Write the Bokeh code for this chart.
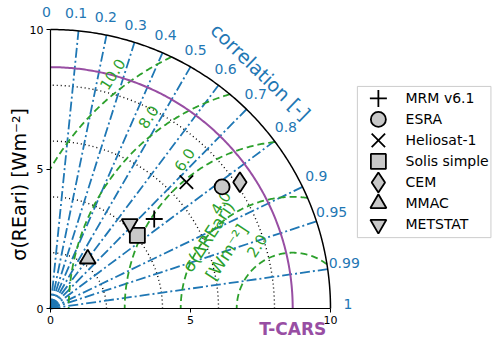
import numpy as np
from bokeh.plotting import figure
from bokeh.models import LinearAxis, FixedTicker
from bokeh.embed import file_html
from bokeh.resources import INLINE
from bokeh.core.properties import value

# ---------------- data ----------------
models = ["MRM v6.1", "ESRA", "Heliosat-1", "Solis simple", "CEM", "MMAC", "METSTAT"]
std_dev = [4.90, 7.52, 6.64, 4.06, 8.14, 2.22, 4.15]
correlation = [0.756, 0.815, 0.731, 0.764, 0.831, 0.599, 0.682]
ref_name = "T-CARS"
ref_std = 8.65
std_max = 10.0
std_axis_ticks = [0, 5, 10]
std_grid = [2, 4, 6, 8]
corr_tick_values = [0.0, 0.1, 0.2, 0.3, 0.4, 0.5, 0.6, 0.7, 0.8, 0.9, 0.95, 0.99, 1.0]
corr_tick_labels = ["0", "0.1", "0.2", "0.3", "0.4", "0.5", "0.6", "0.7", "0.8", "0.9", "0.95", "0.99", "1"]
corr_line_values = [0.1, 0.2, 0.3, 0.4, 0.5, 0.6, 0.7, 0.8, 0.9, 0.95, 0.99]
rmsd_levels = [2, 4, 6, 8, 10]
rmsd_labels = ["2.0", "4.0", "6.0", "8.0", "10.0"]

# ---------------- styles ----------------
marker_types = ["cross", "circle", "x", "square", "diamond", "triangle", "inverted_triangle"]
marker_sizes = [17, 15, 19, 15, 20, 16, 16]
BLUE = "#1f77b4"
GREEN = "#2ca02c"
PURPLE = "#984ea3"
GREY = "#c8c8c8"
FONT = value("DejaVu Sans")

W, H = 492, 338
PX, PY = 28.0, 27.9          # pixels per data unit
OX, OY = 50, 308             # origin position in figure pixels
x_range = (-OX / PX, (W - OX) / PX)
y_range = (-(H - OY) / PY, OY / PY)

p = figure(width=W, height=H, x_range=x_range, y_range=y_range,
           x_axis_type=None, y_axis_type=None, title=None,
           min_border=0, toolbar_location=None, output_backend="svg")
p.outline_line_color = None
p.background_fill_color = "white"
p.border_fill_color = "white"

th = np.linspace(0, np.pi / 2, 200)

# std dotted grid arcs
p.multi_line([list(r * np.cos(th)) for r in std_grid], [list(r * np.sin(th)) for r in std_grid],
             line_color="black", line_dash="1 3", line_width=1.4)

# correlation rays
angs = np.arccos(corr_line_values)
p.multi_line([[0, std_max * np.cos(a)] for a in angs], [[0, std_max * np.sin(a)] for a in angs],
             line_color=BLUE, line_dash="10 3 2 3", line_width=1.8)

# RMSD arcs around the reference point
c = ref_std
rx, ry = [], []
for r in rmsd_levels:
    xi = (std_max ** 2 - r ** 2 + c ** 2) / (2 * c)
    yi = np.sqrt(max(std_max ** 2 - xi ** 2, 0))
    t0 = np.arctan2(yi, xi - c)
    t1 = np.pi if r <= c else np.arccos(-c / r)
    tt = np.linspace(t0, t1, 200)
    rx.append(list(c + r * np.cos(tt)))
    ry.append(list(r * np.sin(tt)))
p.multi_line(rx, ry, line_color=GREEN, line_dash="7 4", line_width=1.8)

# reference arc and outer circle
p.line(ref_std * np.cos(th), ref_std * np.sin(th), line_color=PURPLE, line_width=2)
p.line(std_max * np.cos(th), std_max * np.sin(th), line_color="black", line_width=1.5)

# axes
xa = LinearAxis(fixed_location=0, ticker=FixedTicker(ticks=std_axis_ticks), bounds=(0, std_max))
ya = LinearAxis(fixed_location=0, ticker=FixedTicker(ticks=std_axis_ticks), bounds=(0, std_max))
for ax in (xa, ya):
    ax.major_label_text_font = "DejaVu Sans"
    ax.major_label_text_font_size = "11px"
    ax.major_label_text_color = "black"
    ax.major_tick_out = 4
    ax.major_tick_in = 0
    ax.minor_tick_out = 0
    ax.minor_tick_in = 0
    ax.axis_line_width = 1.2
    ax.major_tick_line_width = 1.0
    ax.major_label_standoff = 3
p.add_layout(xa, "below")
p.add_layout(ya, "left")

# correlation tick labels
lab_r, lab_d = 10.62, np.deg2rad(0.8)
la = np.arccos(corr_tick_values) + lab_d
p.text(list(lab_r * np.cos(la)), list(lab_r * np.sin(la)), text=corr_tick_labels,
       text_font=FONT, text_font_size="14px", text_color=BLUE,
       text_align="center", text_baseline="middle")
ca = np.deg2rad(48.5)
p.text([11.33 * np.cos(ca)], [11.33 * np.sin(ca)], text=["correlation [-]"], angle=-44, angle_units="deg",
       text_font=FONT, text_font_size="19px", text_color=BLUE,
       text_align="center", text_baseline="middle")

# RMSD labels: along a straight line through the arcs
lx0, lang, loff = 9.25, np.deg2rad(130), 0.6
lxs, lys = [], []
for r in rmsd_levels:
    rr = r + loff
    b = 2 * ((lx0 - c) * np.cos(lang))
    cc = (lx0 - c) ** 2 - rr ** 2
    t = (-b + np.sqrt(b * b - 4 * cc)) / 2
    lxs.append(lx0 + t * np.cos(lang))
    lys.append(t * np.sin(lang))
p.text(lxs, lys, text=rmsd_labels, angle=57, angle_units="deg",
       text_font=FONT, text_font_size="15px", text_color=GREEN,
       text_align="center", text_baseline="middle")
p.text([5.64, 6.29], [2.58, 2.01], text=["σ(ΔREari)", "[Wm⁻²]"], angle=57, angle_units="deg",
       text_font=FONT, text_font_size="17px", text_color=GREEN,
       text_align="center", text_baseline="middle")

# axis titles
p.text([-1.14], [4.45], text=["σ(REari) [Wm⁻²]"], angle=90, angle_units="deg",
       text_font=FONT, text_font_size="19px", text_color="black",
       text_align="center", text_baseline="middle")
p.text([ref_std], [-0.74], text=[ref_name], text_font=FONT, text_font_size="17px",
       text_font_style="bold", text_color=PURPLE, text_align="center", text_baseline="middle")

# model markers
mx = [s * cr for s, cr in zip(std_dev, correlation)]
my = [s * np.sqrt(1 - cr ** 2) for s, cr in zip(std_dev, correlation)]
for i, name in enumerate(models):
    p.scatter([mx[i]], [my[i]], marker=marker_types[i], size=marker_sizes[i],
              fill_color=GREY, line_color="black", line_width=1.8)

# legend (drawn in data space, right of the diagram)
leg_l, leg_r, leg_t, leg_b = 10.96, 15.73, 7.96, 2.54
p.quad(left=[leg_l], right=[leg_r], top=[leg_t], bottom=[leg_b],
       fill_color="white", line_color="#cccccc", line_width=1)
row0, drow = 7.53, 21 / PY
ly = [row0 - k * drow for k in range(len(models))]
for i, name in enumerate(models):
    p.scatter([11.71], [ly[i]], marker=marker_types[i], size=marker_sizes[i],
              fill_color=GREY, line_color="black", line_width=1.8)
p.text([12.68] * len(models), ly, text=models, text_font=FONT, text_font_size="14px",
       text_color="black", text_align="left", text_baseline="middle")

open("out.html", "w").write(file_html(p, INLINE))
